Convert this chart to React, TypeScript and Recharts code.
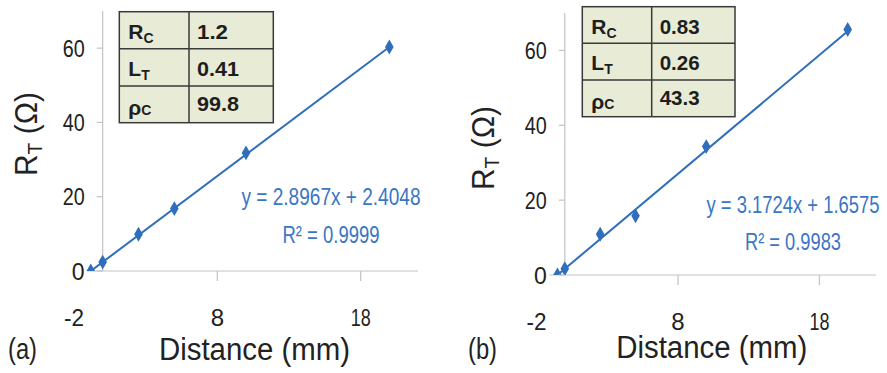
import React from "react";
import { ScatterChart, Scatter, XAxis, YAxis, ZAxis, ReferenceLine } from "recharts";

// ---- data ----
const xTicks = [-2, 8, 18];
const yTicks = [0, 20, 40, 60];
const xDomain = [-2, 22];
const yDomain = [0, 70];

const distanceA = [-0.83, 0, 2.5, 5, 10, 20];
const resistanceA = [0, 2.4, 9.9, 16.8, 31.8, 60.3];
const distanceB = [-0.52, 0, 2.5, 5, 10, 20];
const resistanceB = [0, 1.66, 10.9, 15.8, 34.3, 65.6];

// linear trend line end points
const trendXA = [-0.83, 20];
const trendYA = [0, 60.3];
const trendXB = [-0.52, 20];
const trendYB = [0, 65.1];

const tableLabels = [
  ["R", "C"],
  ["L", "T"],
  ["ρ", "C"],
];
const tableValuesA = ["1.2", "0.41", "99.8"];
const tableValuesB = ["0.83", "0.26", "43.3"];

const equationA = "y = 2.8967x + 2.4048";
const rSquaredA = "R² = 0.9999";
const equationB = "y = 3.1724x + 1.6575";
const rSquaredB = "R² = 0.9983";

const panelLabels = ["(a)", "(b)"];
const xTitle = "Distance (mm)";
const yTitleMain = "R";
const yTitleSub = "T";
const yTitleUnit = " (Ω)";

// ---- styles ----
const FONT = "'Liberation Sans', Arial, sans-serif";
const BLUE = "#2f6eba";
const EQ_BLUE = "#3a76c6";
const AXIS_GRAY = "#c3c3c3";
const TEXT = "#222222";

type Layout = {
  left: number;
  width: number;
  margin: { top: number; right: number; bottom: number; left: number };
  table: { x0: number; x1: number; x2: number; rows: number[] };
  valueWidths: number[];
  eq: { cx: number; y1: number; y2: number; w1: number; w2: number };
  xTitle: { cx: number; y: number };
  yTitle: { cx: number; cy: number };
  panel: { x: number; y: number };
};

const H = 373;
const Y_AXIS_W = 60;
const X_AXIS_H = 60;

const layoutA: Layout = {
  left: 0,
  width: 440,
  margin: { top: 11, right: 22, bottom: 102 - X_AXIS_H, left: 74 - Y_AXIS_W },
  table: { x0: 119.3, x1: 189, x2: 273.3, rows: [11.7, 48.7, 86, 122.7] },
  valueWidths: [31, 42, 42],
  eq: { cx: 331, y1: 205, y2: 243, w1: 179, w2: 97 },
  xTitle: { cx: 254.5, y: 360 },
  yTitle: { cx: 26, cy: 134 },
  panel: { x: 8, y: 359 },
};

const layoutB: Layout = {
  left: 440,
  width: 447,
  margin: { top: 13, right: 11, bottom: 98 - X_AXIS_H, left: 96.5 - Y_AXIS_W },
  table: { x0: 142.3, x1: 211.7, x2: 295, rows: [6.7, 43.3, 80, 116.7] },
  valueWidths: [40, 40, 40],
  eq: { cx: 353, y1: 213, y2: 250, w1: 173, w2: 96 },
  xTitle: { cx: 271.7, y: 358 },
  yTitle: { cx: 43, cy: 148 },
  panel: { x: 28, y: 359 },
};

function Panel({
  layout,
  xs,
  ys,
  txs,
  tys,
  values,
  equation,
  r2,
  label,
}: {
  layout: Layout;
  xs: number[];
  ys: number[];
  txs: number[];
  tys: number[];
  values: string[];
  equation: string;
  r2: string;
  label: string;
}) {
  const data = xs.map((x, i) => ({ x, y: ys[i] }));
  const trend = txs.map((x, i) => ({ x, y: tys[i] }));
  const { margin, width } = layout;
  const plotLeft = margin.left + Y_AXIS_W;
  const plotW = width - plotLeft - margin.right;
  const plotBottom = H - margin.bottom - X_AXIS_H;
  const zeroX = plotLeft + ((0 - xDomain[0]) / (xDomain[1] - xDomain[0])) * plotW;

  const YTick = (props: any) => {
    const { y, payload } = props;
    return (
      <g>
        <line x1={zeroX - 6} x2={zeroX} y1={y} y2={y} stroke={AXIS_GRAY} strokeWidth={1.2} />
        <text
          x={zeroX - 18}
          y={y}
          dy={8.5}
          textAnchor="end"
          fontFamily={FONT}
          fontSize={23}
          fill={TEXT}
          {...(String(payload.value).length > 1
            ? { textLength: 22, lengthAdjust: "spacingAndGlyphs" }
            : {})}
        >
          {payload.value}
        </text>
      </g>
    );
  };

  const XTick = (props: any) => {
    const { x, payload } = props;
    return (
      <g>
        {payload.value !== xDomain[0] && (
          <line x1={x} x2={x} y1={plotBottom} y2={plotBottom + 10} stroke={AXIS_GRAY} strokeWidth={1.2} />
        )}
        <text
          x={x}
          y={plotBottom + 55}
          textAnchor="middle"
          fontFamily={FONT}
          fontSize={24}
          fill={TEXT}
          {...(String(payload.value).length > 1
            ? { textLength: 20, lengthAdjust: "spacingAndGlyphs" }
            : {})}
        >
          {payload.value}
        </text>
      </g>
    );
  };

  const t = layout.table;
  return (
    <div style={{ position: "absolute", left: layout.left, top: 0, width, height: H }}>
      <ScatterChart width={width} height={H} margin={margin}>
        <XAxis
          type="number"
          dataKey="x"
          domain={xDomain}
          ticks={xTicks}
          height={X_AXIS_H}
          axisLine={false}
          tickLine={false}
          tick={<XTick />}
          interval={0}
          allowDataOverflow
        />
        <YAxis
          type="number"
          dataKey="y"
          domain={yDomain}
          ticks={yTicks}
          width={Y_AXIS_W}
          axisLine={false}
          tickLine={false}
          tick={<YTick />}
          interval={0}
          allowDataOverflow
        />
        <ZAxis range={[68, 68]} />
        <ReferenceLine x={0} stroke={AXIS_GRAY} strokeWidth={1.2} />
        <ReferenceLine
          segment={[
            { x: -1.1, y: 0 },
            { x: xDomain[1], y: 0 },
          ]}
          stroke={AXIS_GRAY}
          strokeWidth={1.2}
        />
        <Scatter
          data={trend}
          fill="none"
          shape={() => <g />}
          line={{ stroke: BLUE, strokeWidth: 2 }}
          isAnimationActive={false}
        />
        <Scatter data={data} fill={BLUE} shape="diamond" isAnimationActive={false} />
      </ScatterChart>
      <svg
        width={width}
        height={H}
        style={{ position: "absolute", left: 0, top: 0, pointerEvents: "none", overflow: "visible" }}
      >
        {/* table */}
        <rect
          x={t.x0}
          y={t.rows[0]}
          width={t.x2 - t.x0}
          height={t.rows[3] - t.rows[0]}
          fill="#e8ecd6"
          stroke="#3a3a3a"
          strokeWidth={1.5}
        />
        <line x1={t.x1} x2={t.x1} y1={t.rows[0]} y2={t.rows[3]} stroke="#3a3a3a" strokeWidth={1.5} />
        <line x1={t.x0} x2={t.x2} y1={t.rows[1]} y2={t.rows[1]} stroke="#3a3a3a" strokeWidth={1.5} />
        <line x1={t.x0} x2={t.x2} y1={t.rows[2]} y2={t.rows[2]} stroke="#3a3a3a" strokeWidth={1.5} />
        {tableLabels.map(([main, sub], i) => {
          const base = t.rows[i] + (i === 2 ? 29 : 27);
          const valBase = t.rows[i] + (i === 2 ? 25 : 27);
          return (
            <g key={i} fontFamily={FONT} fontWeight="bold" fill="#1e1e1e">
              <text x={t.x0 + 9} y={base} fontSize={21}>
                {main}
                <tspan fontSize={14} dy={i === 2 ? 0 : 4}>
                  {sub}
                </tspan>
              </text>
              <text
                x={t.x1 + 8}
                y={valBase}
                fontSize={20}
                textLength={layout.valueWidths[i]}
                lengthAdjust="spacingAndGlyphs"
              >
                {values[i]}
              </text>
            </g>
          );
        })}
        {/* equation */}
        <text
          x={layout.eq.cx}
          y={layout.eq.y1}
          textAnchor="middle"
          fontFamily={FONT}
          fontSize={24}
          fill={EQ_BLUE}
          textLength={layout.eq.w1}
          lengthAdjust="spacingAndGlyphs"
        >
          {equation}
        </text>
        <text
          x={layout.eq.cx}
          y={layout.eq.y2}
          textAnchor="middle"
          fontFamily={FONT}
          fontSize={24}
          fill={EQ_BLUE}
          textLength={layout.eq.w2}
          lengthAdjust="spacingAndGlyphs"
        >
          {r2}
        </text>
        {/* axis titles */}
        <text
          x={layout.xTitle.cx}
          y={layout.xTitle.y}
          textAnchor="middle"
          fontFamily={FONT}
          fontSize={31}
          fill={TEXT}
          textLength={191}
          lengthAdjust="spacingAndGlyphs"
        >
          {xTitle}
        </text>
        <text
          transform={`translate(${layout.yTitle.cx},${layout.yTitle.cy}) rotate(-90)`}
          x={0}
          y={11}
          textAnchor="middle"
          fontFamily={FONT}
          fontSize={31}
          fill={TEXT}
          textLength={84}
          lengthAdjust="spacingAndGlyphs"
        >
          {yTitleMain}
          <tspan fontSize={20} dy={5}>
            {yTitleSub}
          </tspan>
          <tspan dy={-5}>{yTitleUnit}</tspan>
        </text>
        {/* panel label */}
        <text
          x={layout.panel.x}
          y={layout.panel.y}
          fontFamily={FONT}
          fontSize={29}
          fill={TEXT}
          textLength={29}
          lengthAdjust="spacingAndGlyphs"
        >
          {label}
        </text>
      </svg>
    </div>
  );
}

export default function App() {
  return (
    <div
      style={{
        position: "absolute",
        left: 0,
        top: 0,
        width: 887,
        height: H,
        background: "#ffffff",
        overflow: "hidden",
      }}
    >
      <Panel
        layout={layoutA}
        xs={distanceA}
        ys={resistanceA}
        txs={trendXA}
        tys={trendYA}
        values={tableValuesA}
        equation={equationA}
        r2={rSquaredA}
        label={panelLabels[0]}
      />
      <Panel
        layout={layoutB}
        xs={distanceB}
        ys={resistanceB}
        txs={trendXB}
        tys={trendYB}
        values={tableValuesB}
        equation={equationB}
        r2={rSquaredB}
        label={panelLabels[1]}
      />
    </div>
  );
}
